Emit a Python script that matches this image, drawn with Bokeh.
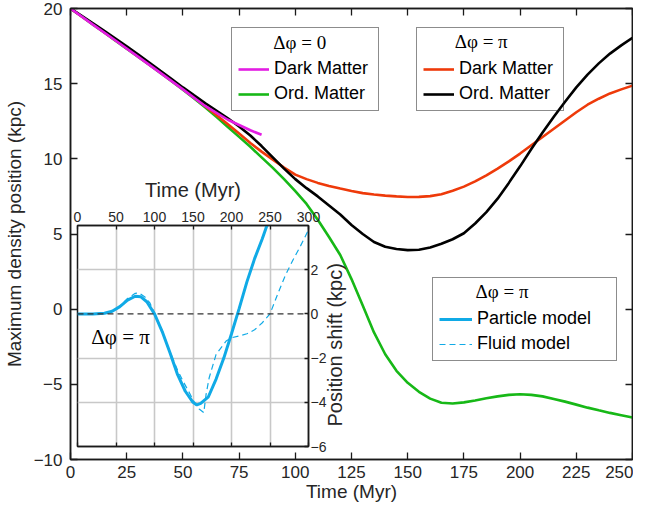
import math
from bokeh.plotting import figure
from bokeh.models import Range1d, LinearAxis, FixedTicker, Legend, LegendItem, Label, Span
from bokeh.layouts import column
from bokeh.embed import file_html
from bokeh.resources import INLINE

# ---------------- data ----------------
t_main = [0, 5, 10, 15, 20, 25, 30, 35, 40, 45, 50, 55, 60, 65, 70, 75, 80, 85, 90, 95,
          100, 105, 110, 115, 120, 125, 130, 135, 140, 145, 150, 155, 160, 165, 170, 175,
          180, 185, 190, 195, 200, 205, 210, 215, 220, 225, 230, 235, 240, 245, 250]
ord_matter_0 = [20, 19.47, 18.93, 18.4, 17.86, 17.33, 16.8, 16.26, 15.72, 15.17, 14.6,
                14.02, 13.42, 12.78, 12.12, 11.46, 10.8, 10.1, 9.4, 8.65, 7.85, 7.0, 5.95,
                4.8, 3.6, 2.0, 0.25, -1.55, -3.0, -4.1, -4.9, -5.5, -5.95, -6.22, -6.28,
                -6.2, -6.07, -5.93, -5.8, -5.7, -5.66, -5.7, -5.8, -5.97, -6.15, -6.35,
                -6.55, -6.73, -6.9, -7.05, -7.2]
dark_matter_pi = [20, 19.47, 18.95, 18.42, 17.9, 17.36, 16.82, 16.28, 15.75, 15.2, 14.65,
                  14.08, 13.5, 12.9, 12.3, 11.68, 11.05, 10.48, 9.95, 9.42, 8.95, 8.65,
                  8.4, 8.2, 8.02, 7.86, 7.72, 7.63, 7.55, 7.5, 7.46, 7.47, 7.52, 7.65,
                  7.88, 8.15, 8.5, 8.9, 9.35, 9.83, 10.35, 10.9, 11.45, 12.0, 12.55, 13.1,
                  13.6, 14.0, 14.35, 14.62, 14.87]
ord_matter_pi = [20, 19.51, 19.02, 18.51, 18.0, 17.48, 16.95, 16.41, 15.85, 15.3, 14.75,
                 14.22, 13.7, 13.2, 12.7, 12.15, 11.55, 10.85, 10.1, 9.35, 8.65, 8.05,
                 7.5, 6.9, 6.3, 5.6, 5.0, 4.47, 4.15, 4.0, 3.93, 3.95, 4.1, 4.35, 4.65,
                 5.05, 5.7, 6.45, 7.35, 8.4, 9.5, 10.65, 11.75, 12.8, 13.8, 14.75, 15.6,
                 16.35, 17.0, 17.55, 18.05]
t_dm0 = [0, 10, 20, 30, 40, 50, 60, 70, 80, 85]
dark_matter_0 = [20, 18.93, 17.87, 16.8, 15.72, 14.62, 13.5, 12.6, 11.9, 11.6]

t_particle = [0, 20, 35, 45, 55, 65, 75, 82, 90, 100, 110, 120, 130, 140, 150, 155,
              160, 170, 180, 190, 200, 210, 220, 230, 240, 246]
particle = [0, 0, 0.03, 0.12, 0.33, 0.62, 0.8, 0.78, 0.55, 0.0, -0.8, -1.75, -2.75,
            -3.5, -4.0, -4.12, -4.05, -3.75, -2.95, -2.0, -0.9, 0.25, 1.45, 2.5, 3.4, 4.0]
t_fluid = [0, 20, 35, 45, 55, 65, 75, 80, 88, 94, 104.6, 110, 119.7, 130, 137, 145,
           152, 158, 164, 167, 171, 180, 193, 200, 210, 220, 230, 240, 250, 260, 270,
           280, 290, 300]
fluid = [0, 0, 0.03, 0.12, 0.35, 0.7, 0.93, 0.95, 0.75, 0.5, -0.33, -0.75, -1.68,
         -2.55, -3.04, -3.55, -4.02, -4.3, -4.47, -3.64, -2.89, -1.83, -1.23, -1.08,
         -1.0, -0.9, -0.72, -0.4, 0.0, 0.9, 1.75, 2.45, 3.1, 3.8]

main_xticks = [0, 25, 50, 75, 100, 125, 150, 175, 200, 225, 250]
main_yticks = [-10, -5, 0, 5, 10, 15, 20]
inset_xticks = [0, 50, 100, 150, 200, 250, 300]
inset_yticks = [-6, -4, -2, 0, 2]

# ---------------- style ----------------
FONT = "Liberation Sans"
SERIF = "Liberation Serif"
TXT = "#262626"
AX = "#1a1a1a"
MAGENTA = "#e31de3"
GREEN = "#17b817"
RED = "#ee3a0a"
BLACK = "#000000"
CYAN = "#10aae6"


def style_axis(ax, ticks, labels=True, size="17px", tick_in=7, standoff=8):
    ax.ticker = FixedTicker(ticks=ticks)
    ax.major_tick_in = tick_in
    ax.major_tick_out = 0
    ax.minor_tick_line_color = None
    ax.axis_line_color = AX
    ax.axis_line_width = 1.5
    ax.major_tick_line_color = AX
    ax.major_tick_line_width = 1.3
    ax.major_label_text_font = FONT
    ax.axis_label_text_font = FONT
    ax.axis_label_text_font_style = "normal"
    ax.axis_label_text_color = TXT
    if labels:
        ax.major_label_text_color = TXT
        ax.major_label_text_font_size = size
        ax.major_label_standoff = standoff
    else:
        ax.major_label_text_color = None
        ax.major_label_text_font_size = "1px"
        ax.major_label_standoff = 0


def make_legend(fig, items, loc, glyph_w, label_w):
    lg = Legend(items=items, location=loc, title=" ",
                title_text_font=SERIF, title_text_font_size="19px", title_standoff=2,
                label_text_font=FONT, label_text_font_size="18px", label_text_color=BLACK,
                glyph_width=glyph_w, glyph_height=20, label_height=20, label_width=label_w,
                label_standoff=5, spacing=4, padding=6, margin=0,
                border_line_color=AX, border_line_width=1.3,
                background_fill_alpha=0.0, inactive_fill_alpha=0.0)
    fig.add_layout(lg)
    return lg


# ---------------- main figure ----------------
main = figure(width=633, height=504, x_range=Range1d(0, 250), y_range=Range1d(-10, 20),
              output_backend="svg", toolbar_location=None,
              min_border_left=60, min_border_right=1, min_border_top=8, min_border_bottom=45)
main.frame_align = False
main.grid.visible = False
main.outline_line_color = AX
main.outline_line_width = 1.5
main.background_fill_color = "white"
main.border_fill_color = "white"

xb = main.below[0]
yl = main.left[0]
style_axis(xb, main_xticks, standoff=6)
style_axis(yl, main_yticks, standoff=8)
xb.axis_label = "Time (Myr)"
xb.axis_label_text_font_size = "19px"
xb.axis_label_standoff = 0
yl.axis_label = "Maximum density position (kpc)"
yl.axis_label_text_font_size = "19px"
yl.axis_label_standoff = 6

top_ax = LinearAxis()
style_axis(top_ax, main_xticks, labels=False)
main.add_layout(top_ax, "above")
right_ax = LinearAxis()
style_axis(right_ax, main_yticks, labels=False)
main.add_layout(right_ax, "right")

r_green = main.line(t_main, ord_matter_0, line_color=GREEN, line_width=2.6)
r_red = main.line(t_main, dark_matter_pi, line_color=RED, line_width=2.6)
r_black = main.line(t_main, ord_matter_pi, line_color=BLACK, line_width=2.6)
r_mag = main.line(t_dm0, dark_matter_0, line_color=MAGENTA, line_width=2.6)
# hidden copies of the inset curves, only used for the legend samples
r_part_leg = main.line(t_particle, particle, line_color=CYAN, line_width=3, visible=False)
r_fluid_leg = main.line(t_fluid, fluid, line_color=CYAN, line_width=1.2, line_dash="6 4",
                        visible=False)

make_legend(main, [LegendItem(label="Dark Matter", renderers=[r_mag]),
                   LegendItem(label="Ord. Matter", renderers=[r_green])], (161, 348), 31, 98)
make_legend(main, [LegendItem(label="Dark Matter", renderers=[r_red]),
                   LegendItem(label="Ord. Matter", renderers=[r_black])], (346, 348), 31, 98)
make_legend(main, [LegendItem(label="Particle model", renderers=[r_part_leg]),
                   LegendItem(label="Fluid model", renderers=[r_fluid_leg])], (362, 98), 33, 133)

for (lx, ly, txt) in [(102.0, 17.75, "\u0394\u03c6 = 0"),
                      (182.7, 17.8, "\u0394\u03c6 = \u03c0"),
                      (192.0, 1.17, "\u0394\u03c6 = \u03c0")]:
    main.add_layout(Label(x=lx, y=ly, text=txt, text_font=SERIF, text_font_size="19px",
                          text_align="center", text_baseline="middle", text_color=BLACK,
                          level="overlay"))
main.add_layout(Label(x=117.5, y=-2.37, text="Position shift (kpc)", text_font=FONT,
                      text_font_size="20px", text_align="center", text_baseline="middle",
                      text_color=TXT, angle=math.pi / 2, level="overlay"))

# ---------------- inset figure ----------------
inset = figure(width=262, height=289, x_range=Range1d(0, 300), y_range=Range1d(-6, 4),
               x_axis_location="above", y_axis_location="right",
               output_backend="svg", toolbar_location=None,
               min_border_left=10, min_border_right=20, min_border_top=58, min_border_bottom=10)
inset.frame_align = False
inset.border_fill_color = None
inset.background_fill_color = "white"
inset.outline_line_color = AX
inset.outline_line_width = 1.5
inset.margin = (-337, 0, 0, 67)

ta = inset.above[0]
style_axis(ta, inset_xticks, size="14px", tick_in=4, standoff=4)
ta.axis_label = "Time (Myr)"
ta.axis_label_text_font_size = "20px"
ta.axis_label_standoff = 8
ra = inset.right[0]
style_axis(ra, inset_yticks, size="14px", tick_in=4, standoff=2)
ba = LinearAxis()
style_axis(ba, inset_xticks, labels=False, tick_in=4)
inset.add_layout(ba, "below")

inset.xgrid.ticker = FixedTicker(ticks=[50, 100, 150, 200, 250])
inset.ygrid.ticker = FixedTicker(ticks=[-4, -2, 2])
inset.grid.grid_line_color = "#c8c8c8"
inset.grid.grid_line_width = 1.6

inset.add_layout(Span(location=0, dimension="width", line_color="#333333",
                      line_width=1.2, line_dash="6 4"))
inset.line(t_fluid, fluid, line_color=CYAN, line_width=1.2, line_dash="6 4")
inset.line(t_particle, particle, line_color=CYAN, line_width=3)
inset.add_layout(Label(x=18, y=-1.05, text="\u0394\u03c6 = \u03c0", text_font=SERIF,
                       text_font_size="21px", text_align="left", text_baseline="middle",
                       text_color=BLACK))

p = column(main, inset)
open("out.html", "w").write(file_html(p, INLINE))
